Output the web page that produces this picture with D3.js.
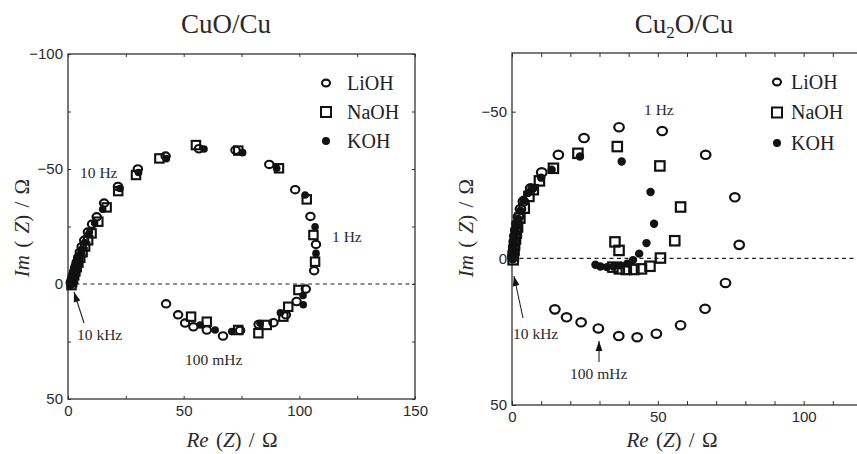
<!DOCTYPE html>
<html>
<head>
<meta charset="utf-8">
<script src="https://cdn.jsdelivr.net/npm/d3@7"></script>
<style>
  body { margin: 0; background: #fff; }
  text { font-family: "Liberation Serif", "Times New Roman", serif; }
</style>
</head>
<body>
<script>
const W = 857, H = 454;

// CuO/Cu panel : [Re(Z), Im(Z)] in ohm
const cuoLiOH = [[1.2,-0.5],[1.5,-1.5],[1.9,-2.8],[2.3,-4.2],[2.8,-5.8],[3.3,-7.6],[3.8,-9.5],[4.4,-11.6],[5.1,-13.8],[5.9,-16.2],[7.0,-19.0],[8.6,-22.6],[10.4,-26.0],[12.4,-29.2],[15.6,-35.2],[21.6,-42.4],[30.2,-50.0],[42.2,-55.6],[56.6,-58.8],[72.4,-58.2],[87.0,-52.0],[98.2,-41.0],[104.8,-29.4],[107.2,-17.2],[106.4,-5.8],[102.8,2.2],[98.8,7.6],[94.2,13.4],[88.8,16.8],[82.4,17.6],[74.4,20.2],[67.0,22.6],[60.0,20.0],[54.2,18.6],[50.6,17.0],[47.6,13.4],[42.4,8.6]];
const cuoNaOH = [[1.5,0.5],[1.8,-0.8],[2.2,-2.2],[2.7,-3.8],[3.2,-5.5],[3.8,-7.3],[4.5,-9.3],[5.3,-11.4],[6.3,-13.8],[7.4,-16.3],[8.7,-19.0],[10.2,-22.0],[13.1,-27.1],[16.7,-33.3],[21.7,-40.4],[29.4,-47.4],[39.5,-54.6],[55.3,-60.4],[73.6,-58.0],[91.2,-50.3],[103.2,-36.8],[106.1,-21.3],[106.8,-9.7],[99.6,2.6],[95.2,9.9],[93.1,14.2],[85.9,17.8],[82.3,21.4],[73.6,20.0],[60.0,16.4],[53.2,14.2]];
const cuoKOH = [[1.0,0.8],[1.3,-0.3],[1.6,-1.6],[2.0,-3.0],[2.5,-4.6],[3.0,-6.3],[3.6,-8.2],[4.3,-10.3],[5.0,-12.6],[6.0,-15.1],[7.2,-18.0],[9.0,-21.8],[11.5,-26.5],[15.0,-32.5],[22.5,-41.5],[30.5,-48.5],[42.5,-54.5],[58.8,-58.7],[75.5,-57.1],[90.2,-50.3],[102.5,-38.7],[106.8,-24.9],[107.2,-13.3],[101.6,5.0],[101.7,9.0],[91.8,12.5],[83.0,17.1],[70.8,20.7],[63.6,20.0],[57.1,17.8]];

// Cu2O/Cu panel
const cu2oLiOH = [[0.3,-0.5],[0.4,-2.0],[0.6,-3.8],[0.8,-5.7],[1.0,-7.6],[1.3,-9.6],[1.7,-11.8],[2.2,-14.2],[2.9,-16.8],[3.9,-19.4],[6.4,-23.9],[10.2,-29.3],[15.9,-35.3],[24.7,-41.0],[36.7,-44.7],[51.5,-43.4],[66.4,-35.3],[76.4,-20.8],[77.9,-4.6],[73.2,8.4],[66.2,17.2],[57.8,22.8],[49.5,25.7],[42.9,26.9],[36.6,26.5],[29.6,23.9],[23.7,21.8],[18.7,20.1],[14.7,17.4]];
const cu2oNaOH = [[0.4,0.5],[0.5,-1.0],[0.7,-2.8],[0.9,-4.6],[1.2,-6.6],[1.5,-8.6],[1.9,-10.7],[2.7,-13.7],[4.2,-17.1],[5.8,-21.1],[7.3,-23.4],[9.4,-26.4],[14.2,-30.7],[22.6,-35.8],[36.1,-38.1],[50.7,-31.5],[57.8,-17.5],[55.8,-6.0],[50.9,-0.1],[47.3,2.7],[44.4,3.6],[41.8,3.8],[39.2,3.8],[36.8,3.6],[34.6,3.0],[36.7,-2.7],[35.3,-5.6]];
const cu2oKOH = [[0.3,0.3],[0.4,-1.2],[0.6,-3.0],[0.8,-4.8],[1.0,-6.8],[1.3,-8.8],[1.7,-11.0],[2.2,-13.4],[2.9,-16.2],[3.9,-20.0],[5.5,-22.3],[7.3,-23.9],[10.0,-27.5],[13.6,-30.2],[23.3,-34.7],[37.6,-33.0],[47.5,-22.6],[48.7,-11.8],[46.1,-5.2],[43.6,-1.6],[41.5,0.6],[39.5,1.8],[37.2,2.4],[34.8,2.8],[32.5,3.0],[30.3,2.8],[28.6,2.2]];

const seriesNames = ["LiOH", "NaOH", "KOH"];

const cuoXTicks = [0, 25, 50, 75, 100, 125, 150];
const cuoXLabels = [0, 50, 100, 150];
const cuoYTicks = [-100, -75, -50, -25, 0, 25, 50];
const cuoYLabels = [-100, -50, 0, 50];

const cu2oXTicks = d3.range(0, 121, 10);
const cu2oXLabels = [0, 50, 100];
const cu2oYTicks = [-50, 0, 50];
const cu2oYLabels = [-50, 0, 50];

const svg = d3.select("body").append("svg").attr("width", W).attr("height", H);

function arrow(x1, y1, x2, y2) {
    svg.append("line")
        .attr("x1", x1).attr("y1", y1).attr("x2", x2).attr("y2", y2)
        .attr("stroke", "#222").attr("stroke-width", 1.1);
    const a = Math.atan2(y2 - y1, x2 - x1);
    const len = 10, hw = 3.4;
    const bx = x2 - len * Math.cos(a), by = y2 - len * Math.sin(a);
    const px = -Math.sin(a) * hw, py = Math.cos(a) * hw;
    svg.append("path")
        .attr("d", `M${x2},${y2}L${bx + px},${by + py}L${bx - px},${by - py}Z`)
        .attr("fill", "#111");
}

function drawPanel(p) {
    const x = d3.scaleLinear().domain(p.xDomain).range([p.left, p.right]);
    const y = d3.scaleLinear().domain(p.yDomain).range([p.top, p.bottom]);
    const g = svg.append("g");
    const fmt = d3.format("d");

    // zero line
    g.append("line")
        .attr("x1", x(p.xDomain[0])).attr("x2", x(p.xDomain[1]))
        .attr("y1", y(0)).attr("y2", y(0))
        .attr("stroke", "#222").attr("stroke-width", 1.1)
        .attr("stroke-dasharray", "4,3.5");

    const styleAxis = sel => {
        sel.select(".domain").remove();
        sel.selectAll("line").attr("stroke", "#333");
        sel.selectAll("text").attr("fill", "#2a2a2a")
            .style("font-family", "'Liberation Sans', Arial, sans-serif")
            .style("font-size", "15px");
    };

    g.append("g").attr("transform", `translate(0,${p.bottom})`)
        .call(d3.axisBottom(x).tickValues(p.xTicks).tickSize(-p.tick).tickPadding(6)
            .tickFormat(d => p.xLabels.includes(d) ? fmt(d) : ""))
        .call(styleAxis);
    g.append("g").attr("transform", `translate(0,${p.top})`)
        .call(d3.axisTop(x).tickValues(p.xTicks).tickSize(-p.tick).tickFormat(""))
        .call(styleAxis);
    g.append("g").attr("transform", `translate(${p.left},0)`)
        .call(d3.axisLeft(y).tickValues(p.yTicks).tickSize(-p.tick).tickPadding(5)
            .tickFormat(d => p.yLabels.includes(d) ? fmt(d) : ""))
        .call(styleAxis);
    g.append("g").attr("transform", `translate(${p.right},0)`)
        .call(d3.axisRight(y).tickValues(p.yTicks).tickSize(-p.tick).tickFormat(""))
        .call(styleAxis);

    // frame
    g.append("rect")
        .attr("x", p.left).attr("y", p.top)
        .attr("width", p.right - p.left).attr("height", p.bottom - p.top)
        .attr("fill", "none").attr("stroke", "#333").attr("stroke-width", 1.3);

    const m = p.marker;
    // KOH filled
    g.selectAll(".koh").data(p.koh).enter().append("circle")
        .attr("cx", d => x(d[0])).attr("cy", d => y(d[1]))
        .attr("r", m.dot).attr("fill", "#111");
    // NaOH squares
    g.selectAll(".naoh").data(p.naoh).enter().append("rect")
        .attr("x", d => x(d[0]) - m.sq / 2).attr("y", d => y(d[1]) - m.sq / 2)
        .attr("width", m.sq).attr("height", m.sq)
        .attr("fill", "none").attr("stroke", "#111").attr("stroke-width", m.sw);
    // LiOH circles
    g.selectAll(".lioh").data(p.lioh).enter().append("ellipse")
        .attr("cx", d => x(d[0])).attr("cy", d => y(d[1]))
        .attr("rx", m.rx).attr("ry", m.ry)
        .attr("fill", "none").attr("stroke", "#111").attr("stroke-width", m.sw);

    // legend
    const lg = p.legend;
    seriesNames.forEach((name, i) => {
        const cy = lg.y + i * lg.step;
        if (i === 0) {
            g.append("ellipse").attr("cx", lg.x).attr("cy", cy).attr("rx", 4).attr("ry", 3.4)
                .attr("fill", "none").attr("stroke", "#111").attr("stroke-width", 2.1);
        } else if (i === 1) {
            g.append("rect").attr("x", lg.x - 5).attr("y", cy - 5).attr("width", 10).attr("height", 10)
                .attr("fill", "none").attr("stroke", "#111").attr("stroke-width", 2);
        } else {
            g.append("circle").attr("cx", lg.x).attr("cy", cy).attr("r", 4).attr("fill", "#111");
        }
        g.append("text").attr("x", lg.tx).attr("y", cy + 6.5)
            .attr("font-size", 20).attr("fill", "#222").text(name);
    });

    // title
    const t = g.append("text").attr("x", p.titleX).attr("y", 33)
        .attr("text-anchor", "middle").attr("font-size", 27).attr("fill", "#2a2a2a");
    p.title.forEach(part => {
        const ts = t.append("tspan").text(part.s);
        if (part.sub) ts.attr("font-size", 17).attr("dy", 5);
        else if (part.after) ts.attr("dy", -5);
    });

    // axis titles
    const xl = g.append("text").attr("x", p.xLabelX).attr("y", 447)
        .attr("text-anchor", "middle").attr("font-size", 21).attr("fill", "#2a2a2a")
        .attr("word-spacing", 2);
    xl.append("tspan").attr("font-style", "italic").text("Re");
    xl.append("tspan").text(" (");
    xl.append("tspan").attr("font-style", "italic").text("Z");
    xl.append("tspan").text(") / Ω");

    const yl = g.append("text")
        .attr("transform", `translate(${p.yLabelX},228) rotate(-90)`)
        .attr("text-anchor", "middle").attr("font-size", 21).attr("fill", "#2a2a2a")
        .attr("word-spacing", 2);
    yl.append("tspan").attr("font-style", "italic").text("Im");
    yl.append("tspan").text(" ( ");
    yl.append("tspan").attr("font-style", "italic").text("Z");
    yl.append("tspan").text(") / Ω");

    // frequency notes
    p.notes.forEach(n => {
        g.append("text").attr("x", n.x).attr("y", n.y)
            .attr("font-size", 15.5).attr("fill", "#2a2a2a").text(n.s);
    });
}

drawPanel({
    left: 68, right: 415, top: 54, bottom: 399,
    xDomain: [0, 150], yDomain: [-100, 50],
    xTicks: cuoXTicks, xLabels: cuoXLabels, yTicks: cuoYTicks, yLabels: cuoYLabels,
    tick: 3,
    lioh: cuoLiOH, naoh: cuoNaOH, koh: cuoKOH,
    marker: { rx: 4.2, ry: 3.7, sq: 8.4, dot: 3.8, sw: 2.1 },
    legend: { x: 326, tx: 347, y: 83, step: 29 },
    title: [{ s: "CuO/Cu" }], titleX: 226,
    xLabelX: 232, yLabelX: 29,
    notes: [
        { s: "10 Hz", x: 80, y: 178 },
        { s: "1 Hz", x: 332, y: 242 },
        { s: "10 kHz", x: 77, y: 340 },
        { s: "100 mHz", x: 185, y: 365 }
    ]
});

drawPanel({
    left: 512, right: 862, top: 53, bottom: 405,
    xDomain: [0, 120], yDomain: [-70, 50],
    xTicks: cu2oXTicks, xLabels: cu2oXLabels, yTicks: cu2oYTicks, yLabels: cu2oYLabels,
    tick: 4,
    lioh: cu2oLiOH, naoh: cu2oNaOH, koh: cu2oKOH,
    marker: { rx: 4.8, ry: 4.2, sq: 9.4, dot: 4.2, sw: 2.2 },
    legend: { x: 777, tx: 791, y: 82, step: 30.5 },
    title: [{ s: "Cu" }, { s: "2", sub: true }, { s: "O/Cu", after: true }], titleX: 684,
    xLabelX: 672, yLabelX: 473,
    notes: [
        { s: "1 Hz", x: 644, y: 115 },
        { s: "10 kHz", x: 513, y: 339 },
        { s: "100 mHz", x: 570, y: 379 }
    ]
});

arrow(84, 323, 74, 292);
arrow(523, 318, 514, 276);
arrow(599, 362, 599, 341);
</script>
</body>
</html>
